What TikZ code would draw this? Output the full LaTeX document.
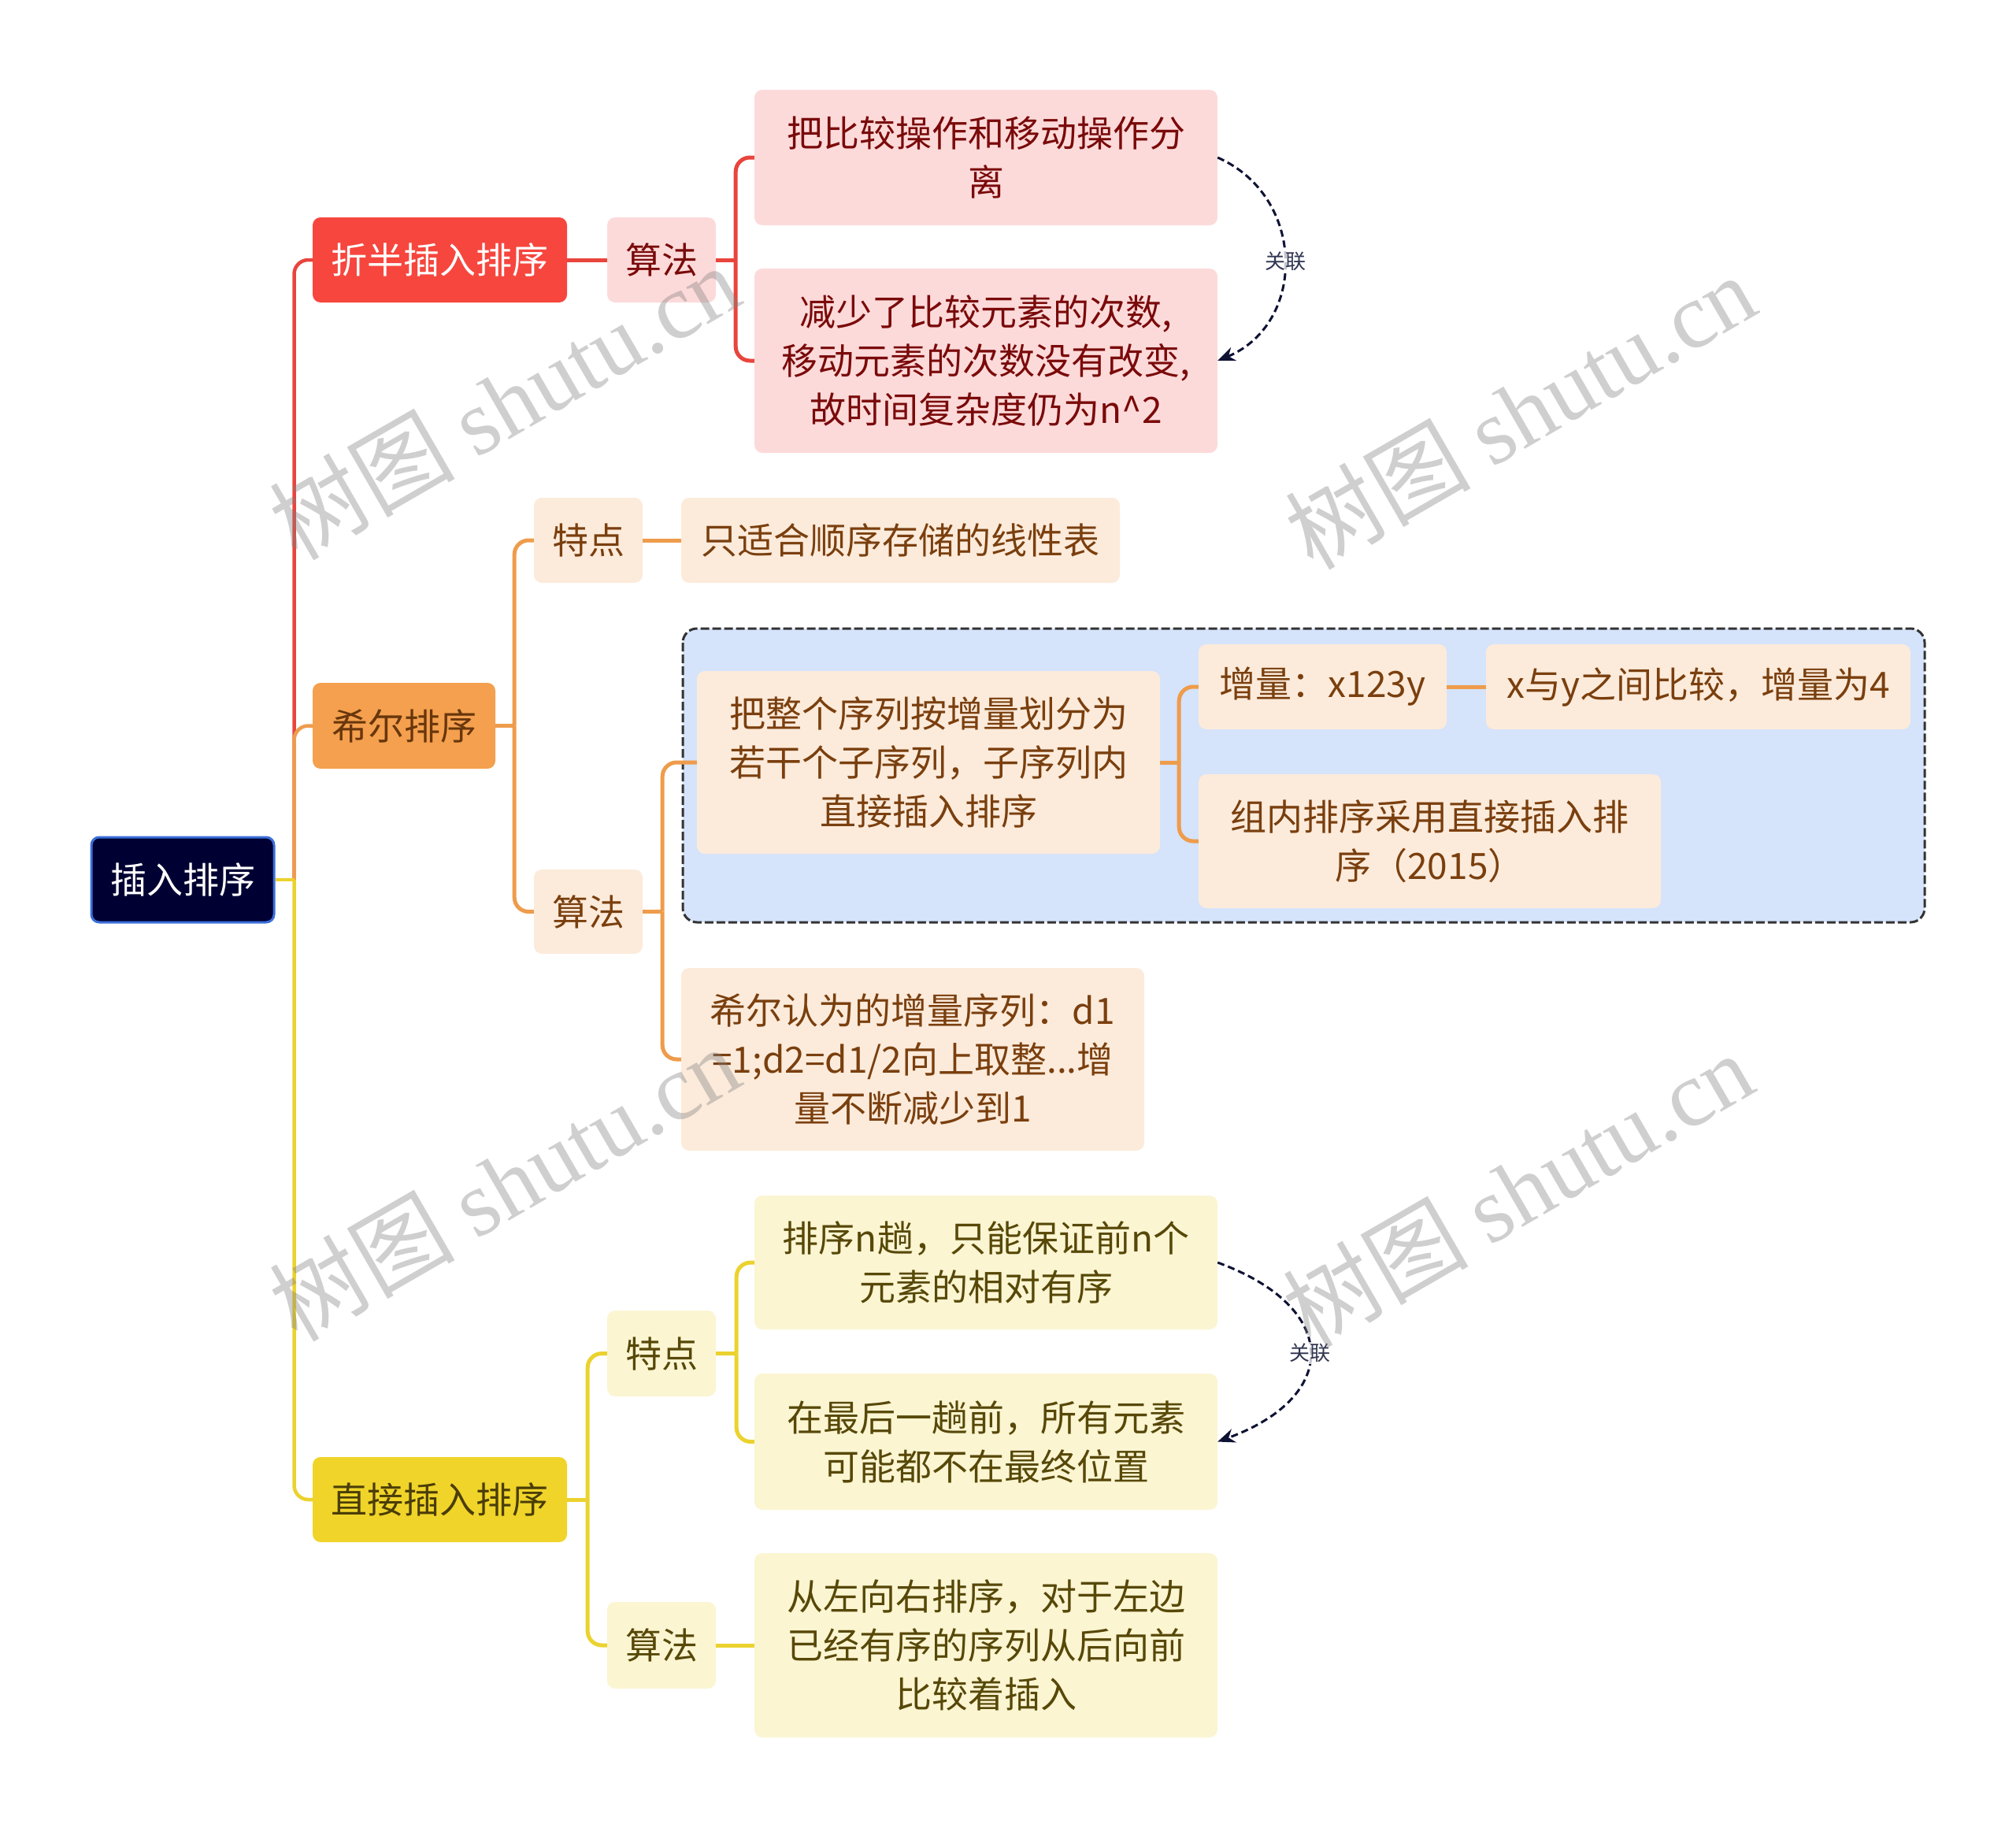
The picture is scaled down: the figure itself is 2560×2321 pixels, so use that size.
\documentclass[tikz,border=0pt]{standalone}
\usepackage{fontspec}
\setmainfont{Noto Sans CJK SC}
\newfontfamily\wmserif{Liberation Serif}
\usetikzlibrary{arrows.meta}
\definecolor{rootfill}{HTML}{000033}
\definecolor{rootborder}{HTML}{3A6FD8}
\definecolor{redmain}{HTML}{F6463E}
\definecolor{redlight}{HTML}{FDDADA}
\definecolor{redtext}{HTML}{7A0A0A}
\definecolor{redline}{HTML}{E8453D}
\definecolor{orgmain}{HTML}{F4A04E}
\definecolor{orglight}{HTML}{FCEBDB}
\definecolor{orgtext}{HTML}{7A3F0E}
\definecolor{orgline}{HTML}{EE9C4C}
\definecolor{ylwmain}{HTML}{F0D42A}
\definecolor{ylwlight}{HTML}{FBF5D2}
\definecolor{ylwtext}{HTML}{574808}
\definecolor{ylwline}{HTML}{EBD22E}
\definecolor{regionfill}{HTML}{D5E3FB}
\definecolor{relcol}{HTML}{0E1233}
\tikzset{
  box/.style={rounded corners=10pt, align=center, inner sep=0pt, font=\fontsize{46}{62}\selectfont},
  rootbox/.style={box, fill=rootfill, draw=rootborder, line width=3pt, text=white},
  redA/.style={box, fill=redmain, text=white},
  redB/.style={box, fill=redlight, text=redtext},
  orgA/.style={box, fill=orgmain, text=orgtext!85!black},
  orgB/.style={box, fill=orglight, text=orgtext},
  ylwA/.style={box, fill=ylwmain, text=ylwtext!85!black},
  ylwB/.style={box, fill=ylwlight, text=ylwtext},
  ered/.style={draw=redline, line width=5pt, rounded corners=18pt},
  eorg/.style={draw=orgline, line width=5pt, rounded corners=18pt},
  eylw/.style={draw=ylwline, line width=5pt, rounded corners=18pt},
  rel/.style={draw=relcol, line width=3pt, dash pattern=on 9pt off 5pt, -{Stealth[length=22pt, width=18pt]}},
  rellabel/.style={font=\fontsize{26}{30}\selectfont, text=relcol!85!white, fill=white, fill opacity=0.75, text opacity=1, inner sep=2pt},
  region/.style={fill=regionfill, draw=black!80, line width=3pt, dash pattern=on 11pt off 4pt, rounded corners=18pt},
  wm/.style={font=\fontsize{118}{130}\selectfont, text=black!50, text opacity=0.38, rotate=30}
}
\begin{document}
\begin{tikzpicture}[x=1pt,y=-1pt]
\useasboundingbox (0,0) rectangle (2560,2321);

% shaded region
\draw[region] (867,798) rectangle (2444,1171);

% nodes
\node[rootbox, minimum width=232pt, minimum height=108pt] (root) at (232,1117) {插入排序};

\node[redA, minimum width=323pt, minimum height=108pt] (a) at (558.5,330) {折半插入排序};
\node[redB, minimum width=138pt, minimum height=108pt] (a1) at (840,330) {算法};
\node[redB, minimum width=588pt, minimum height=172pt] (a11) at (1252,200) {把比较操作和移动操作分\\离};
\node[redB, minimum width=588pt, minimum height=234pt] (a12) at (1252,458) {减少了比较元素的次数,\\移动元素的次数没有改变,\\故时间复杂度仍为n\^{}2};

\node[orgA, minimum width=232pt, minimum height=109pt] (b) at (513,921.5) {希尔排序};
\node[orgB, minimum width=138pt, minimum height=108pt] (b1) at (747,686) {特点};
\node[orgB, minimum width=557pt, minimum height=108pt] (b11) at (1143.5,686) {只适合顺序存储的线性表};
\node[orgB, minimum width=138pt, minimum height=107pt] (b2) at (747,1157.5) {算法};
\node[orgB, minimum width=588pt, minimum height=232pt] (b21) at (1179,968) {把整个序列按增量划分为\\若干个子序列，子序列内\\直接插入排序};
\node[orgB, minimum width=315pt, minimum height=108pt] (b211) at (1679.5,872) {增量：x123y};
\node[orgB, minimum width=539pt, minimum height=108pt] (b2111) at (2156.5,872) {x与y之间比较，增量为4};
\node[orgB, minimum width=587pt, minimum height=170pt] (b212) at (1815.5,1068) {组内排序采用直接插入排\\序（2015）};
\node[orgB, minimum width=588pt, minimum height=232pt] (b22) at (1159,1345) {希尔认为的增量序列：d1\\=1;d2=d1/2向上取整...增\\量不断减少到1};

\node[ylwA, minimum width=323pt, minimum height=108pt] (c) at (558.5,1904) {直接插入排序};
\node[ylwB, minimum width=138pt, minimum height=109pt] (c1) at (840,1718.5) {特点};
\node[ylwB, minimum width=588pt, minimum height=170pt] (c11) at (1252,1603) {排序n趟，只能保证前n个\\元素的相对有序};
\node[ylwB, minimum width=588pt, minimum height=173pt] (c12) at (1252,1830.5) {在最后一趟前，所有元素\\可能都不在最终位置};
\node[ylwB, minimum width=138pt, minimum height=110pt] (c2) at (840,2089) {算法};
\node[ylwB, minimum width=588pt, minimum height=234pt] (c21) at (1252,2089) {从左向右排序，对于左边\\已经有序的序列从后向前\\比较着插入};

% root edges
\draw[ered, line width=4.5pt] (root.east) -- ++(24,0);
\draw[ered, line width=4.5pt] ([xshift=24pt]root.east) |- (a.west);
\draw[eorg, line width=4.5pt] ([xshift=24pt]root.east) |- (b.west);
\draw[eylw, line width=4.5pt] (root.east) -- ++(24,0);
\draw[eylw, line width=4.5pt] ([xshift=24pt]root.east) |- (c.west);

% red branch
\draw[ered] (a.east) -- (a1.west);
\draw[ered] (a1.east) -- ++(25,0);
\draw[ered] ([xshift=25pt]a1.east) |- (a11.west);
\draw[ered] ([xshift=25pt]a1.east) |- (a12.west);

% orange branch
\draw[eorg] (b.east) -- ++(24,0);
\draw[eorg] ([xshift=24pt]b.east) |- (b1.west);
\draw[eorg] ([xshift=24pt]b.east) |- (b2.west);
\draw[eorg] (b1.east) -- (b11.west);
\draw[eorg] (b2.east) -- ++(25,0);
\draw[eorg] ([xshift=25pt]b2.east) |- (b21.west);
\draw[eorg] ([xshift=25pt]b2.east) |- (b22.west);
\draw[eorg] (b21.east) -- ++(24,0);
\draw[eorg] ([xshift=24pt]b21.east) |- (b211.west);
\draw[eorg] ([xshift=24pt]b21.east) |- (b212.west);
\draw[eorg] (b211.east) -- (b2111.west);

% yellow branch
\draw[eylw] (c.east) -- ++(26,0);
\draw[eylw] ([xshift=26pt]c.east) |- (c1.west);
\draw[eylw] ([xshift=26pt]c.east) |- (c2.west);
\draw[eylw] (c1.east) -- ++(26,0);
\draw[eylw] ([xshift=26pt]c1.east) |- (c11.west);
\draw[eylw] ([xshift=26pt]c1.east) |- (c12.west);
\draw[eylw] (c2.east) -- (c21.west);

% relations
\draw[rel] (a11.east) .. controls +(113,50) and +(113,-47) .. (a12.east);
\node[rellabel] (r1) at (1632,332) {关联};
\draw[rel] (c11.east) .. controls +(156,57) and +(156,-57) .. (c12.east);
\node[rellabel] (r2) at (1663,1718) {关联};

% watermarks
\node[wm] (w1) at (640,510) {树图 {\wmserif shutu.cn}};
\node[wm] (w2) at (1930,522) {树图 {\wmserif shutu.cn}};
\node[wm] (w3) at (640,1502) {树图 {\wmserif shutu.cn}};
\node[wm] (w4) at (1927,1510) {树图 {\wmserif shutu.cn}};
\end{tikzpicture}
\end{document}
